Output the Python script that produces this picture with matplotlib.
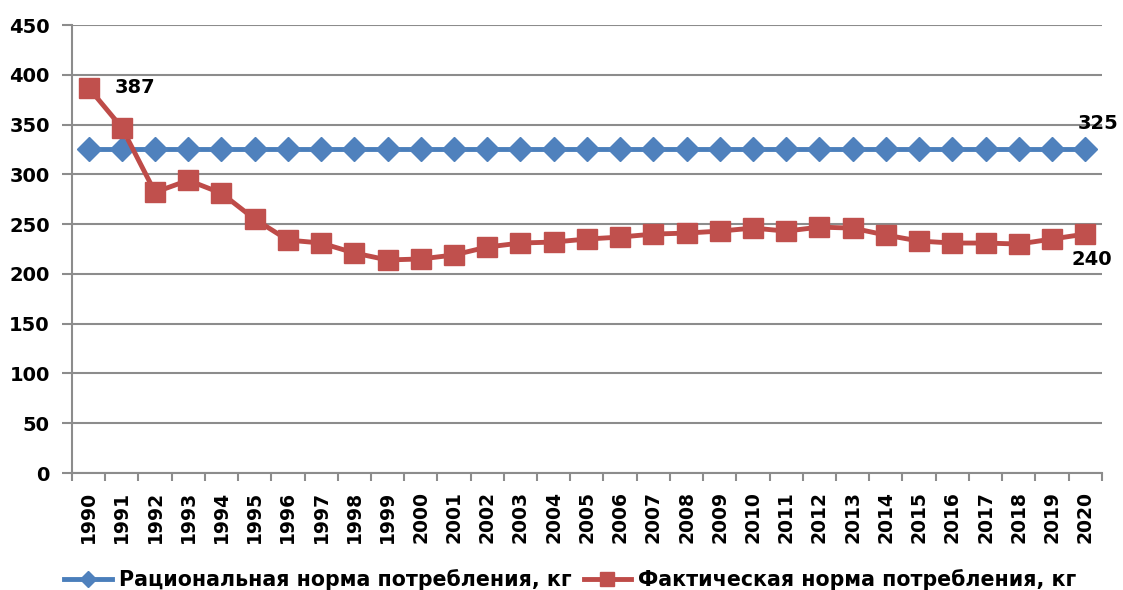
import matplotlib
matplotlib.use("Agg")
import matplotlib.pyplot as plt
import numpy as np

plt.rcParams["font.family"] = ["DejaVu Sans"]
plt.rcParams["font.weight"] = "bold"

years = list(range(1990, 2021))
rational = [325] * 31
actual = [387, 347, 282, 294, 281, 255, 234, 231, 221, 214, 215, 219, 227, 231, 232,
          235, 237, 240, 241, 243, 246, 243, 247, 246, 239, 233, 231, 231, 230, 235, 240]
label_rational = "Рациональная норма потребления, кг"
label_actual = "Фактическая норма потребления, кг"

BLUE = "#4A7EBB"
RED = "#BE4B48"
GRID = "#8C8C8C"

fig = plt.figure(figsize=(11.23, 5.9), dpi=100)
ax = fig.add_axes([0.0641, 0.1983, 0.917, 0.7593])

x = np.arange(len(years))
ax.plot(x, rational, color=BLUE, lw=3.5, marker="D", ms=12, mfc="#4F81BD", mec="#4F81BD",
        label=label_rational, zorder=3)
ax.plot(x, actual, color=RED, lw=3.5, marker="s", ms=15, mfc="#C0504D", mec="#C0504D",
        label=label_actual, zorder=4)

ax.set_ylim(0, 450)
ax.set_xlim(-0.5, len(years) - 0.5)
ax.set_yticks(range(0, 451, 50))
ax.yaxis.grid(True, color=GRID, lw=1.5)
ax.set_axisbelow(True)

ax.set_xticks(x)
ax.set_xticklabels([str(y) for y in years], rotation=90, fontsize=13.5, fontweight="bold")
ax.set_xticks(np.arange(-0.5, len(years), 1), minor=True)
ax.tick_params(axis="x", which="major", length=0, pad=13)
ax.tick_params(axis="x", which="minor", length=6, color=GRID, width=1.5)
ax.tick_params(axis="y", length=7, color=GRID, width=1.5, labelsize=14, pad=9)
for lab in ax.get_yticklabels():
    lab.set_fontweight("bold")

for s in ["top", "right"]:
    ax.spines[s].set_visible(False)
for s in ["left", "bottom"]:
    ax.spines[s].set_color(GRID)
    ax.spines[s].set_linewidth(1.5)

ax.annotate(str(actual[0]), (x[0], actual[0]), xytext=(19, 0), textcoords="offset points",
            fontsize=14, fontweight="bold", va="center", ha="left")
ax.annotate(str(rational[-1]), (x[-1], rational[-1]), xytext=(9, 19), textcoords="offset points",
            fontsize=14, fontweight="bold", va="center", ha="center")
ax.annotate(str(actual[-1]), (x[-1], actual[-1]), xytext=(5, -18), textcoords="offset points",
            fontsize=14, fontweight="bold", va="center", ha="center")

fig.legend(loc="lower center", bbox_to_anchor=(0.508, -0.032), ncol=2, frameon=False,
           handlelength=2.3, columnspacing=0.6, handletextpad=0.35, markerscale=0.7,
           prop={"weight": "bold", "size": 14.8})

fig.savefig("out.png", dpi=100)
